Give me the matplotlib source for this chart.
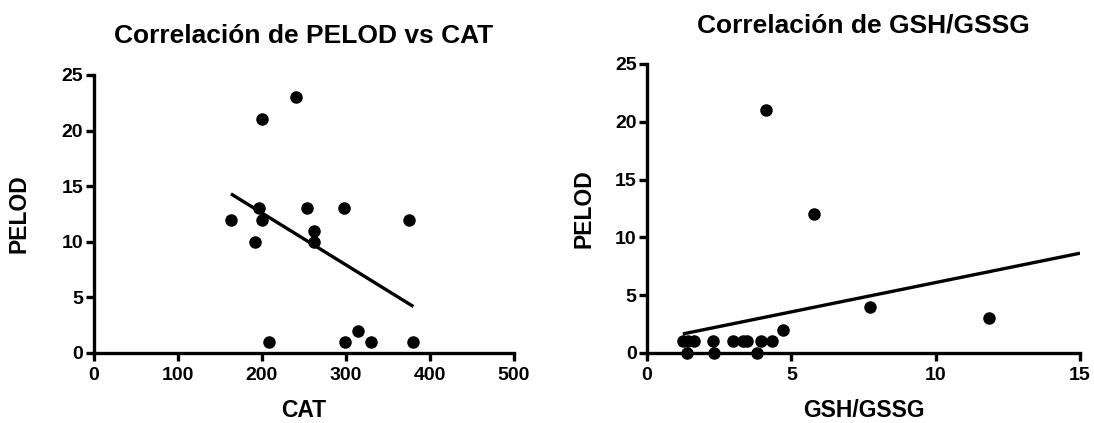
import numpy as np
import matplotlib.pyplot as plt

# PELOD vs CAT
cat = [163.6, 196.8, 200.2, 192.3, 200.2, 208.9, 241.3, 254.2, 262.5, 262.0,
       298.6, 299.8, 314.8, 330.0, 375.4, 380.8]
pelod_cat = [12, 13, 12, 10, 21, 1, 23, 13, 11, 10, 13, 1, 2, 1, 12, 1]

# PELOD vs GSH/GSSG
gsh = [4.12, 5.80, 7.73, 11.85, 4.70, 1.24, 1.42, 1.63, 2.29, 2.97, 3.31, 3.48,
       3.95, 4.33, 1.38, 2.33, 3.80]
pelod_gsh = [21, 12, 4, 3, 2, 1, 1, 1, 1, 1, 1, 1, 1, 1, 0, 0, 0]

plt.rcParams['font.family'] = ['Liberation Sans', 'DejaVu Sans']
plt.rcParams['font.weight'] = 'bold'

fig = plt.figure(figsize=(10.94, 4.23), dpi=100)
ax1 = fig.add_axes([0.0855, 0.1655, 0.3839, 0.6572])
ax2 = fig.add_axes([0.5914, 0.1655, 0.3958, 0.6832])


def style(ax, xticks, yticks):
    for s in ['top', 'right']:
        ax.spines[s].set_visible(False)
    for s in ['left', 'bottom']:
        ax.spines[s].set_linewidth(2.4)
        ax.spines[s].set_capstyle('projecting')
    ax.tick_params(width=2.4, length=6, labelsize=14)
    ax.tick_params(axis='x', pad=4)
    ax.tick_params(axis='y', pad=1.5)
    ax.set_xticks(xticks)
    ax.set_yticks(yticks)
    ax.set_xlim(xticks[0], xticks[-1])
    ax.set_ylim(yticks[0], yticks[-1])
    for lab in ax.get_xticklabels() + ax.get_yticklabels():
        lab.set_fontweight('bold')


def fit_line(ax, x, y, x0, x1):
    k, b = np.polyfit(x, y, 1)
    xs = np.array([x0, x1])
    ax.plot(xs, k * xs + b, color='black', lw=2.4, solid_capstyle='butt')


ax1.plot(cat, pelod_cat, 'o', color='black', ms=8, clip_on=False, zorder=3)
fit_line(ax1, cat, pelod_cat, min(cat), max(cat))
style(ax1, [0, 100, 200, 300, 400, 500], [0, 5, 10, 15, 20, 25])
ax1.set_xlabel('CAT', fontsize=16.5, fontweight='bold', labelpad=11)
ax1.set_ylabel('PELOD', fontsize=16.5, fontweight='bold', labelpad=22)
ax1.set_title('Correlación de PELOD vs CAT', fontsize=19, fontweight='bold', pad=23)

ax2.plot(gsh, pelod_gsh, 'o', color='black', ms=8, clip_on=False, zorder=3)
fit_line(ax2, gsh, pelod_gsh, min(gsh), 15)
style(ax2, [0, 5, 10, 15], [0, 5, 10, 15, 20, 25])
ax2.set_xlabel('GSH/GSSG', fontsize=16.5, fontweight='bold', labelpad=11)
ax2.set_ylabel('PELOD', fontsize=16.5, fontweight='bold', labelpad=14)
ax2.set_title('Correlación de GSH/GSSG', fontsize=19, fontweight='bold', pad=23)

fig.savefig('out.png', dpi=100)
